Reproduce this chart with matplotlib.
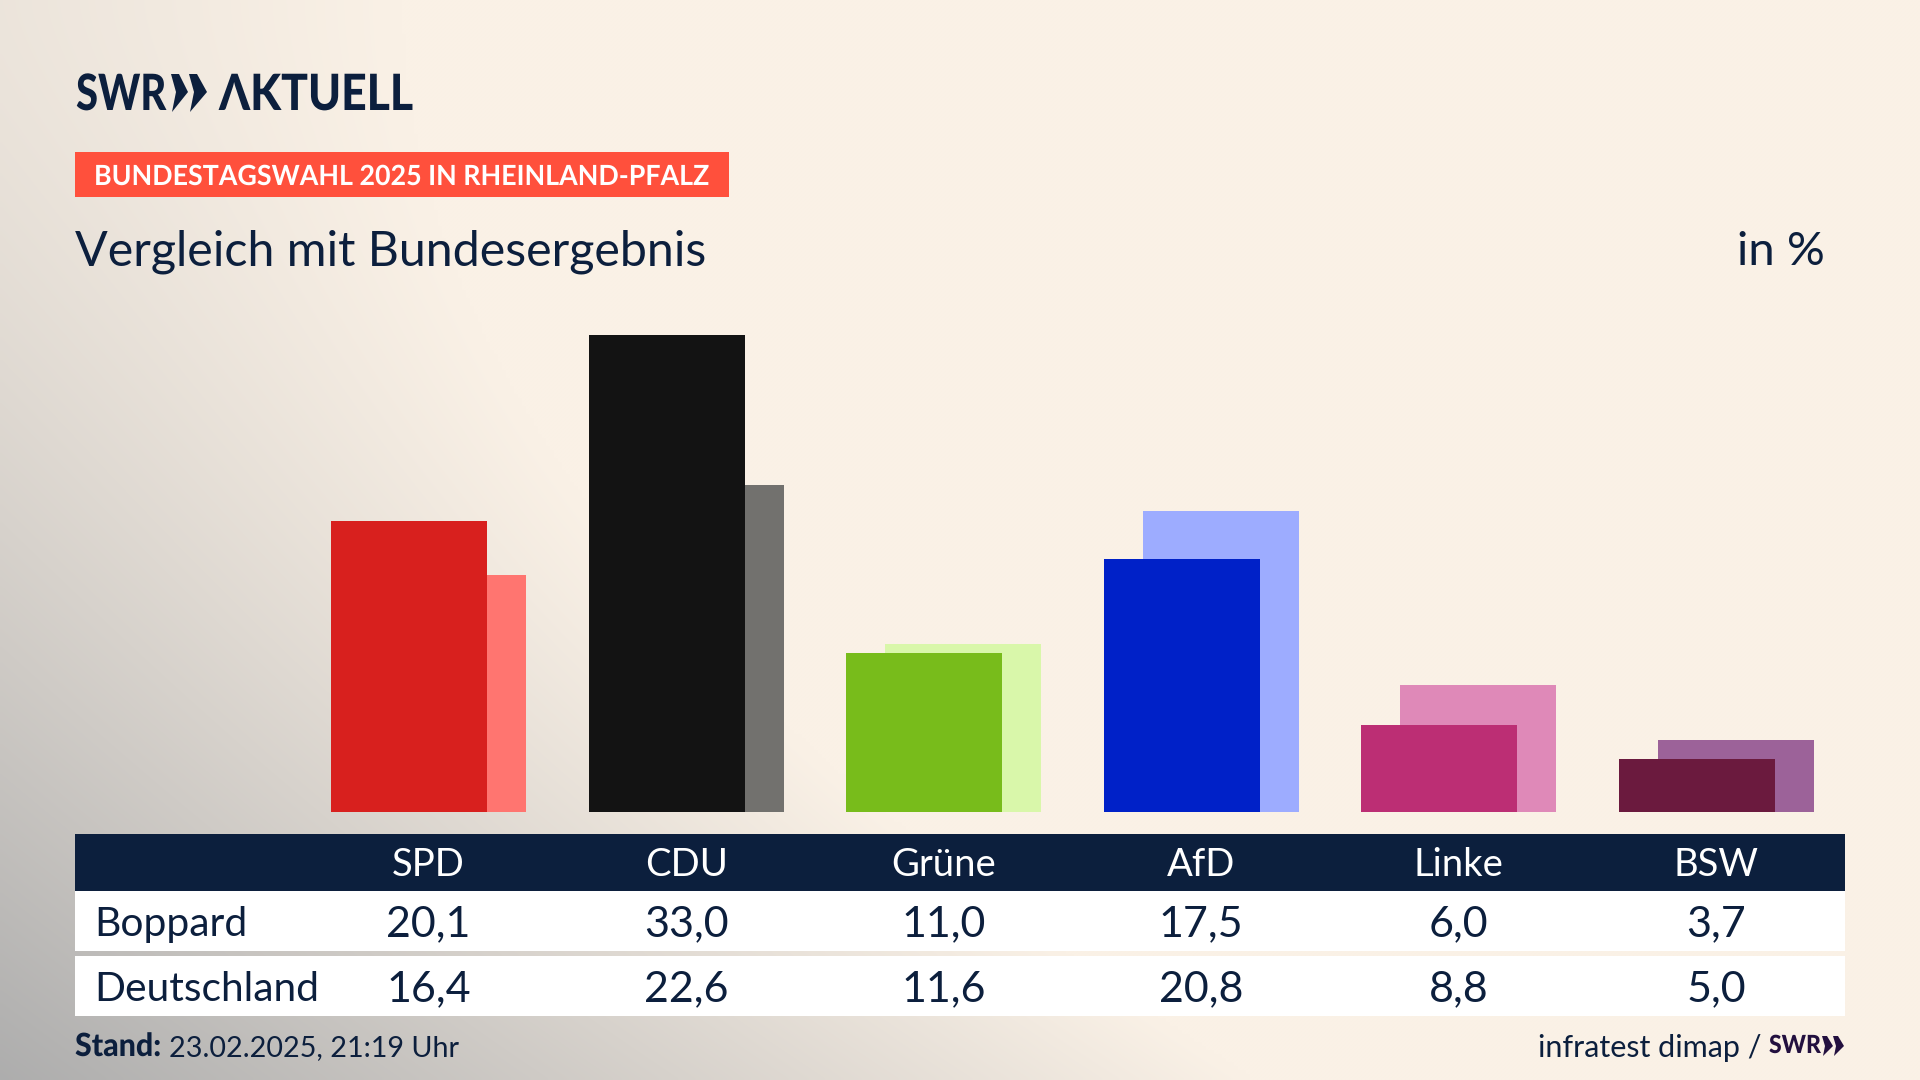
# -*- coding: utf-8 -*-
import matplotlib
matplotlib.use('Agg')
import matplotlib.pyplot as plt
from matplotlib.patches import Polygon, Rectangle
from matplotlib.patheffects import AbstractPathEffect
from matplotlib.transforms import Affine2D
import numpy as np

parties = ['SPD', 'CDU', 'Grüne', 'AfD', 'Linke', 'BSW']
boppard = [20.1, 33.0, 11.0, 17.5, 6.0, 3.7]
deutschland = [16.4, 22.6, 11.6, 20.8, 8.8, 5.0]
front_colors = ['#D8201E', '#131313', '#78BC1B', '#0021C8', '#BC2E74', '#6B1A3E']
back_colors = ['#FF7570', '#72716E', '#D9F7AA', '#9DACFF', '#DF89B8', '#9C6299']

NAVY = '#0C1F3D'
W, H = 1920, 1080
plt.rcParams['font.family'] = ['Lato', 'DejaVu Sans']


# no condensed font installed, so squeeze the glyphs horizontally
class Squeeze(AbstractPathEffect):
    def __init__(self, sx):
        super().__init__()
        self.sx = sx

    def draw_path(self, renderer, gc, tpath, affine, rgbFace=None):
        renderer.draw_path(gc, tpath, Affine2D().scale(self.sx, 1) + affine, rgbFace)


fig = plt.figure(figsize=(19.2, 10.8), dpi=100)

# background + everything that is placed in pixels
bg = fig.add_axes([0, 0, 1, 1])
bg.axis('off')

xx, yy = np.meshgrid(np.linspace(0, W, 480), np.linspace(0, H, 270))
left_weight = 0.18 + 0.8 * (yy / H) ** 1.5
reach = 400 + 850 * (yy / H) ** 2
weight = left_weight * np.clip(1 - xx / reach, 0, 1)
cream = np.array([250, 241, 230]) / 255
grey = np.array([172, 172, 172]) / 255
img = cream[None, None, :] * (1 - weight[..., None]) + grey[None, None, :] * weight[..., None]
bg.imshow(img, extent=[0, W, H, 0], aspect='auto', zorder=0, interpolation='bilinear')
bg.set_xlim(0, W)
bg.set_ylim(H, 0)

# logo
bg.text(76, 110, 'SWR', fontsize=36, fontweight='black', color=NAVY, va='baseline', path_effects=[Squeeze(0.8)])
for x0, w in ((171, 17), (189, 18)):
    bg.add_patch(Polygon([[x0, 74], [x0 + 8, 74], [x0 + w, 92], [x0 + 1, 112], [x0 + 5, 92]], color=NAVY, lw=0))
bg.text(219, 110, 'ΛKTUELL', fontsize=36, fontweight='black', color=NAVY, va='baseline', path_effects=[Squeeze(0.89)])

# badge + headline
bg.add_patch(Rectangle((75, 152), 654, 45, color='#FF503C', lw=0))
bg.text(94, 185, 'BUNDESTAGSWAHL 2025 IN RHEINLAND-PFALZ', fontsize=20, fontweight='bold', color='white', va='baseline',
        path_effects=[Squeeze(0.965)])
bg.text(75, 265, 'Vergleich mit Bundesergebnis', fontsize=34.8, color=NAVY, va='baseline')
bg.text(1825, 265, 'in %', fontsize=34, color=NAVY, ha='right', va='baseline')

# bars, real data scale
base_px, top_px = 812, 335
left_px, right_px = 300, 1830
c0, step = 428.6, 257.5
ax = fig.add_axes([left_px / W, 1 - base_px / H, (right_px - left_px) / W, (base_px - top_px) / H])
ax.set_xlim((left_px - c0) / step, (right_px - c0) / step)
ax.set_ylim(0, 33.0)
ax.axis('off')
pos = np.arange(len(parties))
bar_w = 156 / step
shift = 19.5 / step
ax.bar(pos + shift, deutschland, bar_w, color=back_colors, zorder=2)
ax.bar(pos - shift, boppard, bar_w, color=front_colors, zorder=3)

# table
bg.add_patch(Rectangle((75, 834), 1770, 57, color=NAVY, lw=0))
bg.add_patch(Rectangle((75, 891), 1770, 60, color='white', lw=0))
bg.add_patch(Rectangle((75, 956), 1770, 60, color='white', lw=0))
bg.text(94, 921, 'Boppard', fontsize=29.3, color=NAVY, va='center_baseline')
bg.text(94, 986, 'Deutschland', fontsize=29.3, color=NAVY, va='center_baseline')
for i, p in enumerate(parties):
    cx = c0 + step * i
    bg.text(cx, 862, p, fontsize=27.5, color='white', ha='center', va='center_baseline')
    bg.text(cx, 921, f'{boppard[i]:.1f}'.replace('.', ','), fontsize=31, color=NAVY, ha='center', va='center_baseline')
    bg.text(cx, 986, f'{deutschland[i]:.1f}'.replace('.', ','), fontsize=31, color=NAVY, ha='center', va='center_baseline')

# footer
bg.text(75, 1056, 'Stand:', fontsize=23, fontweight='black', color=NAVY, va='baseline', path_effects=[Squeeze(0.95)])
bg.text(169, 1056, '23.02.2025, 21:19 Uhr', fontsize=20.7, color=NAVY, va='baseline')
bg.text(1761, 1057, 'infratest dimap /', fontsize=22, color=NAVY, ha='right', va='baseline')
bg.text(1769, 1053, 'SWR', fontsize=18, fontweight='black', color='#23103F', va='baseline', path_effects=[Squeeze(0.92)])
for x0 in (1822, 1833):
    bg.add_patch(Polygon([[x0, 1036], [x0 + 5, 1036], [x0 + 11, 1046], [x0 + 1, 1056], [x0 + 3, 1046]], color='#23103F', lw=0))

fig.savefig('out.png', dpi=100)
